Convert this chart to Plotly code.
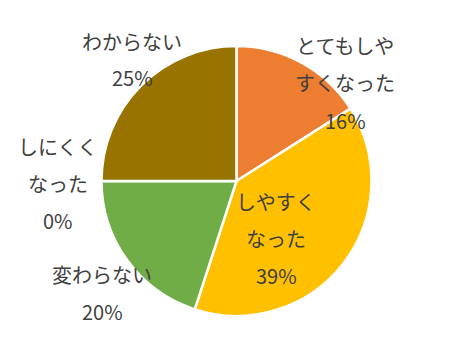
import plotly.graph_objects as go

# ---- data ----
categories = ["とてもしやすくなった", "しやすくなった", "変わらない", "しにくくなった", "わからない"]
values = [16, 39, 20, 0, 25]
label_lines = [["とてもしや", "すくなった"], ["しやすく", "なった"], ["変わらない"], ["しにくく", "なった"], ["わからない"]]
colors = ["#ED7D31", "#FFC000", "#70AD47", "#A5A5A5", "#997300"]

# ---- layout (pixel positions of label blocks: center x, first line y) ----
W, H = 474, 363
OFF = 8  # default page body margin
label_pos = [(345, 46), (276, 201), (102, 274), (58, 146), (132, 41)]
line_gap = 37
font = dict(family="Noto Sans CJK JP", size=20, color="#404040")

cx, cy, r = 236.5 - OFF, 181 - OFF, 135

fig = go.Figure(go.Pie(
    labels=categories,
    values=values,
    sort=False,
    direction="clockwise",
    rotation=0,
    marker=dict(colors=colors, line=dict(color="white", width=2.5)),
    textinfo="none",
    hoverinfo="label+percent",
    showlegend=False,
    domain=dict(x=[(cx - r) / W, (cx + r) / W], y=[1 - (cy + r) / H, 1 - (cy - r) / H]),
))

annotations = []
for lines, v, (px, py) in zip(label_lines, values, label_pos):
    for i, t in enumerate(lines + [f"{v}%"]):
        annotations.append(dict(
            text=t, x=(px - OFF) / W, y=1 - (py - OFF + i * line_gap) / H,
            xref="paper", yref="paper", xanchor="center", yanchor="middle",
            showarrow=False, font=font,
        ))

fig.update_layout(
    width=W, height=H,
    margin=dict(l=0, r=0, t=0, b=0),
    paper_bgcolor="white", plot_bgcolor="white",
    annotations=annotations,
)

fig.write_html("out.html")
